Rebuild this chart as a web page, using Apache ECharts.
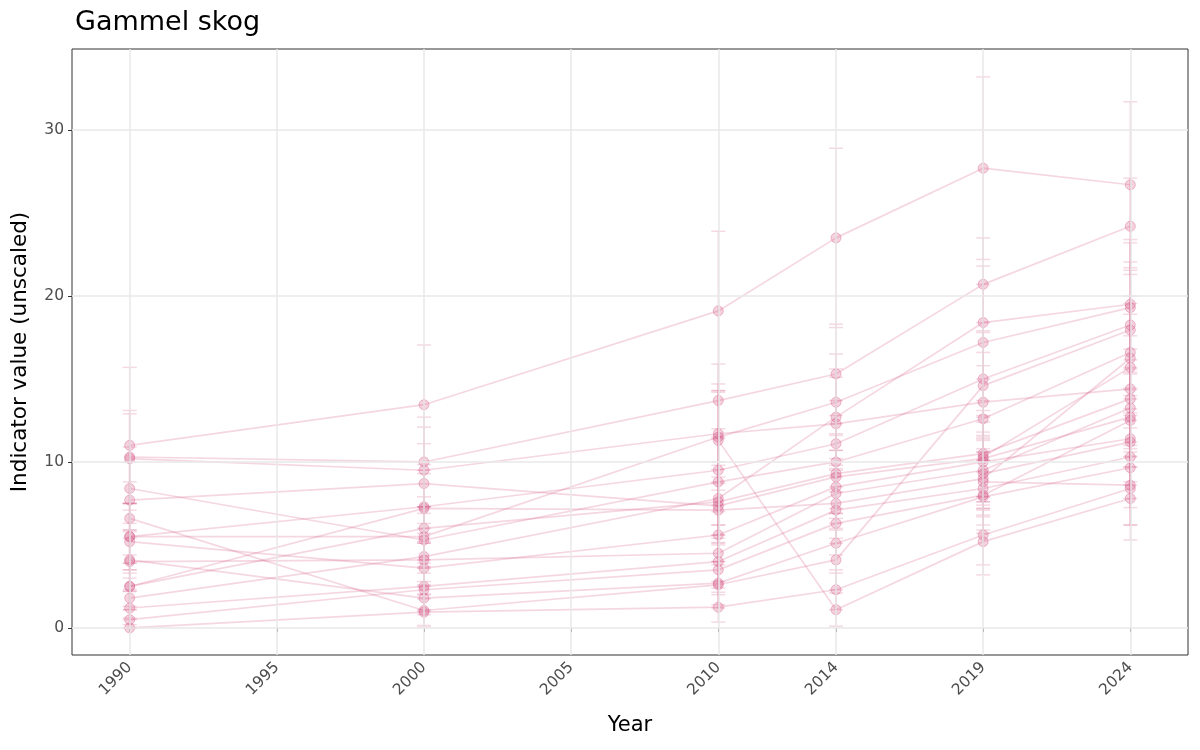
<!DOCTYPE html>
<html><head><meta charset="utf-8">
<script src="https://cdn.jsdelivr.net/npm/echarts@6/dist/echarts.min.js"></script>
<style>html,body{margin:0;padding:0;background:#fff}#c{width:1200px;height:750px}</style>
</head><body><div id="c"></div>
<script>
const years = [1990, 2000, 2010, 2014, 2019, 2024];
const xBreaks = [1990, 1995, 2000, 2005, 2010, 2014, 2019, 2024];
const yBreaks = [0, 10, 20, 30];

// indicator values per series (1990, 2000, 2010, 2014, 2019, 2024)
const s01 = [11.0, 13.45, 19.1, 23.5, 27.7, 26.7];
const s02 = [10.3, 10.0, 13.7, 15.3, 20.7, 24.2];
const s03 = [10.2, 9.5, 11.7, 12.3, 13.6, 14.4];
const s04 = [8.4, 5.3, 8.8, 10.0, 12.6, 16.6];
const s05 = [7.7, 8.7, 7.35, 9.1, 10.2, 12.7];
const s06 = [6.6, 1.05, 2.6, 4.1, 14.6, 17.95];
const s07 = [5.5, 7.3, 9.5, 11.1, 15.0, 18.25];
const s08 = [5.5, 5.5, 11.5, 13.6, 17.2, 19.3];
const s09 = [5.2, 3.6, 5.6, 8.5, 10.0, 11.4];
const s10 = [4.1, 1.8, 2.7, 5.1, 7.9, 9.65];
const s11 = [4.0, 4.1, 4.5, 8.1, 9.5, 13.25];
const s12 = [2.5, 7.2, 7.1, 7.5, 9.0, 16.25];
const s13 = [2.5, 6.0, 7.6, 9.3, 10.5, 13.8];
const s14 = [1.8, 4.3, 7.8, 12.7, 18.4, 19.5];
const s15 = [1.2, 2.5, 4.0, 7.1, 8.4, 10.3];
const s16 = [0.5, 2.3, 3.5, 6.3, 8.0, 12.5];
const s17 = [0.0, 0.95, 1.25, 2.3, 5.6, 8.4];
const s18 = [null, null, 11.3, 1.1, 5.2, 7.8];
const s19 = [null, null, null, null, 10.3, 15.7];
const s20 = [null, null, null, null, 9.3, 11.2];
const s21 = [null, null, null, null, 8.8, 8.6];

// half-widths of the error bars
const e01 = [4.7, 3.6, 4.8, 5.4, 5.5, 5.0];
const e02 = [2.8, 2.7, 2.2, 3.0, 2.8, 2.9];
const e03 = [2.7, 2.6, 3.0, 2.8, 3.0, 3.2];
const e04 = [2.5, 2.0, 2.6, 2.8, 3.2, 3.4];
const e05 = [2.3, 2.4, 2.2, 2.5, 2.6, 3.0];
const e06 = [2.2, 1.0, 1.4, 1.8, 3.2, 3.6];
const e07 = [2.0, 2.2, 2.5, 2.6, 3.4, 3.8];
const e08 = [2.0, 1.8, 2.7, 2.9, 3.5, 3.9];
const e09 = [1.9, 1.6, 1.8, 2.2, 2.4, 2.6];
const e10 = [1.8, 1.0, 1.3, 1.8, 2.2, 2.4];
const e11 = [1.8, 1.6, 1.7, 2.1, 2.3, 2.9];
const e12 = [1.4, 2.1, 2.0, 2.1, 2.3, 3.3];
const e13 = [1.4, 1.9, 2.2, 2.4, 2.6, 3.0];
const e14 = [1.2, 1.7, 2.2, 2.9, 3.4, 3.9];
const e15 = [1.0, 1.4, 1.6, 2.0, 2.2, 2.5];
const e16 = [0.8, 1.3, 1.5, 1.9, 2.1, 2.8];
const e17 = [0.5, 0.8, 0.9, 1.2, 1.8, 2.2];
const e18 = [null, null, 3.0, 1.0, 2.0, 2.5];
const e19 = [null, null, null, null, 2.4, 3.2];
const e20 = [null, null, null, null, 2.2, 2.6];
const e21 = [null, null, null, null, 2.0, 2.4];

const valueSets = [s01,s02,s03,s04,s05,s06,s07,s08,s09,s10,s11,s12,s13,s14,s15,s16,s17,s18,s19,s20,s21];
const errSets = [e01,e02,e03,e04,e05,e06,e07,e08,e09,e10,e11,e12,e13,e14,e15,e16,e17,e18,e19,e20,e21];

const FONT = 'DejaVu Sans';
const RGB = '214,96,140';

const errData = [];
valueSets.forEach((v, k) => {
  v.forEach((val, i) => {
    if (val == null) return;
    const e = errSets[k][i] || 0;
    errData.push([years[i], Math.max(0, val - e), val + e]);
  });
});

const series = [];
// gridlines
series.push({
  type: 'line', data: [[1990, 0]], showSymbol: false, silent: true,
  lineStyle: { opacity: 0 }, z: 0,
  markLine: {
    silent: true, symbol: 'none', animation: false,
    label: { show: false },
    lineStyle: { color: '#e8e8e8', width: 1.5, type: 'solid' },
    data: xBreaks.map(x => ({ xAxis: x })).concat(yBreaks.map(y => ({ yAxis: y })))
  }
});
// error bars
series.push({
  type: 'custom', z: 2, silent: true,
  data: errData,
  encode: { x: 0, y: [1, 2] },
  renderItem: function (params, api) {
    const x = api.value(0), lo = api.value(1), hi = api.value(2);
    const p1 = api.coord([x, lo]), p2 = api.coord([x, hi]);
    const w = 7;
    const st = { stroke: 'rgba(' + RGB + ',0.24)', lineWidth: 1.5 };
    return { type: 'group', children: [
      { type: 'line', shape: { x1: p1[0], y1: p1[1], x2: p2[0], y2: p2[1] }, style: st },
      { type: 'line', shape: { x1: p1[0] - w, y1: p1[1], x2: p1[0] + w, y2: p1[1] }, style: st },
      { type: 'line', shape: { x1: p2[0] - w, y1: p2[1], x2: p2[0] + w, y2: p2[1] }, style: st }
    ]};
  }
});
valueSets.forEach((v) => {
  series.push({
    type: 'line', z: 3, silent: true,
    data: years.map((y, i) => [y, v[i]]).filter(d => d[1] != null),
    symbol: 'circle', symbolSize: 10, showSymbol: true,
    lineStyle: { color: 'rgba(' + RGB + ',0.25)', width: 1.7 },
    itemStyle: { color: 'rgba(' + RGB + ',0.28)', borderColor: 'rgba(' + RGB + ',0.4)', borderWidth: 1 }
  });
});

const chart = echarts.init(document.getElementById('c'), null, { renderer: 'canvas' });
chart.setOption({
  animation: false,
  backgroundColor: '#fff',
  title: { text: 'Gammel skog', left: 70, top: 4, textStyle: { fontFamily: FONT, fontSize: 27, fontWeight: 'normal', color: '#000' } },
  grid: { left: 72, right: 12, top: 49, bottom: 95, show: true, borderColor: '#333', borderWidth: 1, backgroundColor: 'transparent' },
  xAxis: {
    type: 'value', min: 1988.04, max: 2025.96,
    axisLine: { show: false },
    splitLine: { show: false },
    axisTick: { show: true, customValues: xBreaks, length: 4, lineStyle: { color: '#333' } },
    axisLabel: { customValues: xBreaks, rotate: 45, margin: 10, color: '#4d4d4d', fontFamily: FONT, fontSize: 15.5, formatter: v => String(v) }
  },
  yAxis: {
    type: 'value', min: -1.63, max: 34.88,
    axisLine: { show: false },
    splitLine: { show: false },
    axisTick: { show: true, customValues: yBreaks, length: 4, lineStyle: { color: '#333' } },
    axisLabel: { customValues: yBreaks, margin: 8, color: '#4d4d4d', fontFamily: FONT, fontSize: 15.5 }
  },
  graphic: [
    { type: 'text', x: 630, y: 726, style: { text: 'Year', fontFamily: FONT, fontSize: 21, fill: '#000', align: 'center', verticalAlign: 'middle' } },
    { type: 'text', rotation: Math.PI / 2, x: 20, y: 352, style: { text: 'Indicator value (unscaled)', fontFamily: FONT, fontSize: 21.5, fill: '#000', align: 'center', verticalAlign: 'middle' } }
  ],
  series: series
});
</script></body></html>
